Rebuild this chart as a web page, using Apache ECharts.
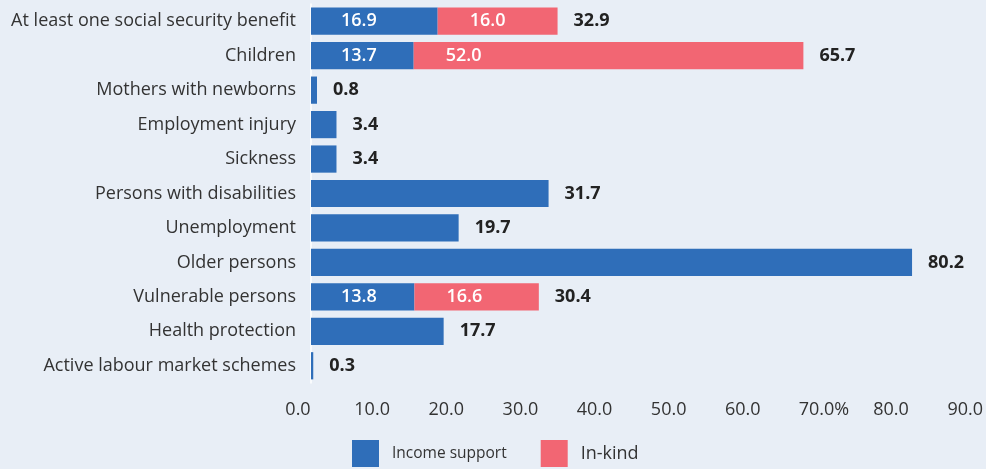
<!DOCTYPE html>
<html>
<head>
<meta charset="utf-8">
<script src="https://cdn.jsdelivr.net/npm/echarts@6/dist/echarts.min.js"></script>
<style>
  html, body { margin: 0; padding: 0; background: #e8eef6; }
  #chart { width: 986px; height: 469px; }
</style>
</head>
<body>
<div id="chart"></div>
<script>
// Social protection coverage by function (%)
const categories = [
  'At least one social security benefit',
  'Children',
  'Mothers with newborns',
  'Employment injury',
  'Sickness',
  'Persons with disabilities',
  'Unemployment',
  'Older persons',
  'Vulnerable persons',
  'Health protection',
  'Active labour market schemes'
];
const incomeSupport = [16.9, 13.7, 0.8, 3.4, 3.4, 31.7, 19.7, 80.2, 13.8, 17.7, 0.3];
const inKind        = [16.0, 52.0, null, null, null, null, null, null, 16.6, null, null];
const totals        = [32.9, 65.7, 0.8, 3.4, 3.4, 31.7, 19.7, 80.2, 30.4, 17.7, 0.3];
const tickLabels    = ['0.0', '10.0', '20.0', '30.0', '40.0', '50.0', '60.0', '70.0%', '80.0', '90.0'];
const seriesNames   = ['Income support', 'In-kind'];

const BLUE = '#2f6eb9';
const RED = '#f26673';
const FONT = '"Open Sans", "Noto Sans", sans-serif';

const chart = echarts.init(document.getElementById('chart'), null, { renderer: 'canvas' });

const insideLabel = {
  color: '#ffffff',
  fontFamily: FONT,
  fontSize: 18,
  fontWeight: 600
};

chart.setOption({
  backgroundColor: '#e8eef6',
  animation: false,
  textStyle: { fontFamily: FONT },
  grid: [
    // bars
    { left: 311, top: 4, width: 674.5, height: 379, containLabel: false },
    // scale row under the bars
    { left: 298, top: 380, width: 669, height: 10, containLabel: false }
  ],
  legend: {
    left: 347,
    top: 435,
    itemWidth: 27,
    itemHeight: 27,
    itemGap: 34,
    icon: 'rect',
    data: [
      { name: seriesNames[0], textStyle: { fontSize: 15.5, color: '#333', padding: [3, 0, 0, 8] } },
      { name: seriesNames[1], textStyle: { fontSize: 18, color: '#333', padding: [3, 0, 0, 8] } }
    ],
    textStyle: { fontFamily: FONT, color: '#333' }
  },
  xAxis: [
    {
      gridIndex: 0,
      type: 'value',
      min: 0,
      max: 90,
      interval: 10,
      axisLine: { show: false },
      axisTick: { show: false },
      axisLabel: { show: false },
      splitLine: { show: false }
    },
    {
      gridIndex: 1,
      type: 'value',
      min: 0,
      max: 90,
      interval: 10,
      axisLine: { show: false },
      axisTick: { show: false },
      splitLine: { show: false },
      axisLabel: {
        margin: 11,
        color: '#333',
        fontFamily: FONT,
        fontSize: 18,
        formatter: function (v) {
          const t = tickLabels[Math.round(v / 10)];
          // keep the number itself centred under its tick when a unit sign follows it
          return t.endsWith('%') ? '{pad|}{n|' + t + '}' : '{n|' + t + '}';
        },
        rich: {
          pad: { width: 14 },
          n: { fontFamily: FONT, fontSize: 18, color: '#333' }
        }
      }
    }
  ],
  yAxis: [
    {
      gridIndex: 0,
      type: 'category',
      data: categories,
      inverse: true,
      axisLine: { show: true, lineStyle: { color: '#ffffff', width: 1.5 } },
      axisTick: { show: false },
      axisLabel: {
        margin: 15,
        color: '#333',
        fontFamily: FONT,
        fontSize: 18
      }
    },
    {
      gridIndex: 1,
      type: 'value',
      show: false
    }
  ],
  series: [
    {
      name: seriesNames[0],
      type: 'bar',
      stack: 'coverage',
      barCategoryGap: '21%',
      itemStyle: { color: BLUE },
      data: incomeSupport.map((v, i) => ({
        value: v,
        label: { show: inKind[i] != null }
      })),
      label: Object.assign({ position: 'insideLeft', distance: 30, formatter: p => p.value.toFixed(1) }, insideLabel)
    },
    {
      name: seriesNames[1],
      type: 'bar',
      stack: 'coverage',
      barCategoryGap: '21%',
      itemStyle: { color: RED },
      data: inKind,
      label: Object.assign({ show: true, position: 'insideLeft', distance: 32, formatter: p => p.value.toFixed(1) }, insideLabel)
    },
    {
      // invisible bar carrying the total at its end
      name: 'Total',
      type: 'bar',
      barGap: '-100%',
      barCategoryGap: '21%',
      itemStyle: { color: 'rgba(0,0,0,0)' },
      data: totals,
      z: 1,
      silent: true,
      label: {
        show: true,
        position: 'right',
        distance: 16,
        color: '#222',
        fontFamily: FONT,
        fontSize: 18,
        fontWeight: 'bold',
        formatter: p => p.value.toFixed(1)
      }
    }
  ]
});
</script>
</body>
</html>
